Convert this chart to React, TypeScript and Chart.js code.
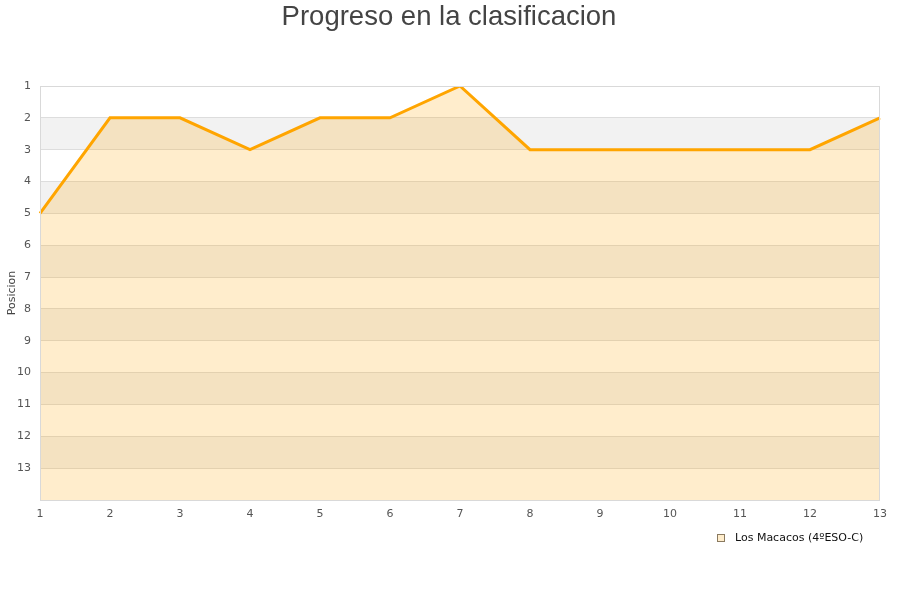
import React, { useEffect, useRef } from "react";
import { Chart, registerables } from "chart.js";

Chart.register(...registerables);

const TITLE = "Progreso en la clasificacion";
const Y_TITLE = "Posicion";
const SERIES_NAME = "Los Macacos (4ºESO-C)";
const jornadas = ["1", "2", "3", "4", "5", "6", "7", "8", "9", "10", "11", "12", "13"];
const posiciones = [5, 2, 2, 3, 2, 2, 1, 3, 3, 3, 3, 3, 2];
const Y_MIN = 1;
const Y_MAX = 14;

const LINE = "#ffa500";
const FILL = "rgba(255,165,0,0.2)";

const bgPlugin = {
  id: "bands",
  beforeDraw(chart: any) {
    const { ctx, chartArea } = chart;
    const y = chart.scales.y;
    ctx.save();
    ctx.fillStyle = "#ffffff";
    ctx.fillRect(0, 0, chart.width, chart.height);
    for (let v = Y_MIN; v < Y_MAX; v++) {
      if (v % 2 === 0) {
        const y1 = y.getPixelForValue(v);
        const y2 = y.getPixelForValue(v + 1);
        ctx.fillStyle = "#f2f2f2";
        ctx.fillRect(chartArea.left, Math.min(y1, y2), chartArea.right - chartArea.left, Math.abs(y2 - y1));
      }
    }
    ctx.restore();
  },
  afterDraw(chart: any) {
    const { ctx, chartArea } = chart;
    ctx.save();
    ctx.strokeStyle = "#d9d9d9";
    ctx.lineWidth = 1;
    ctx.strokeRect(chartArea.left + 0.5, chartArea.top + 0.5, chartArea.right - chartArea.left - 1, chartArea.bottom - chartArea.top);
    // title
    ctx.fillStyle = "#444444";
    ctx.font = "27.5px 'Liberation Sans', Arial, sans-serif";
    ctx.textAlign = "center";
    ctx.textBaseline = "alphabetic";
    ctx.fillText(TITLE, 449, 25);
    // legend
    ctx.fillStyle = "#ffedcc";
    ctx.fillRect(717.5, 534.5, 7, 7);
    ctx.strokeStyle = "#8a7a60";
    ctx.strokeRect(717.5, 534.5, 7, 7);
    ctx.fillStyle = "#111111";
    ctx.font = "11px 'DejaVu Sans', sans-serif";
    ctx.textAlign = "left";
    ctx.textBaseline = "middle";
    ctx.fillText(SERIES_NAME, 735, 538);
    ctx.restore();
  },
};

export default function App() {
  const ref = useRef<HTMLCanvasElement>(null);
  useEffect(() => {
    document.body.style.margin = "0";
    const chart = new Chart(ref.current as HTMLCanvasElement, {
      type: "line",
      data: {
        labels: jornadas,
        datasets: [
          {
            label: SERIES_NAME,
            data: posiciones,
            borderColor: LINE,
            backgroundColor: FILL,
            borderWidth: 3,
            borderJoinStyle: "miter",
            pointRadius: 0,
            tension: 0,
            fill: "start",
          },
        ],
      },
      options: {
        animation: false,
        responsive: false,
        maintainAspectRatio: false,
        layout: { padding: { top: 86, right: 20, left: 6, bottom: 0 } },
        plugins: { legend: { display: false }, title: { display: false }, tooltip: { enabled: false } },
        scales: {
          x: {
            type: "category",
            offset: false,
            grid: { display: false, drawTicks: false },
            border: { display: false },
            ticks: { color: "#555", font: { family: "'DejaVu Sans', sans-serif", size: 11 }, padding: 8, maxRotation: 0, autoSkip: false },
            afterFit(scale: any) {
              scale.height = 100;
            },
          },
          y: {
            type: "linear",
            reverse: true,
            min: Y_MIN,
            max: Y_MAX,
            grid: { color: "#dddddd", drawTicks: false },
            border: { display: false },
            title: { display: true, text: Y_TITLE, color: "#444", font: { family: "'DejaVu Sans', sans-serif", size: 11 }, padding: 0 },
            ticks: {
              stepSize: 1,
              color: "#555",
              font: { family: "'DejaVu Sans', sans-serif", size: 11 },
              padding: 9,
              callback: (v: any) => (v >= Y_MAX ? "" : String(v)),
            },
            afterFit(scale: any) {
              scale.width = 34;
            },
          },
        },
      },
      plugins: [bgPlugin],
    } as any);
    return () => chart.destroy();
  }, []);
  return (
    <div style={{ position: "absolute", left: 0, top: 0, width: 900, height: 600 }}>
      <canvas ref={ref} width={900} height={600} style={{ width: 900, height: 600 }} />
    </div>
  );
}
